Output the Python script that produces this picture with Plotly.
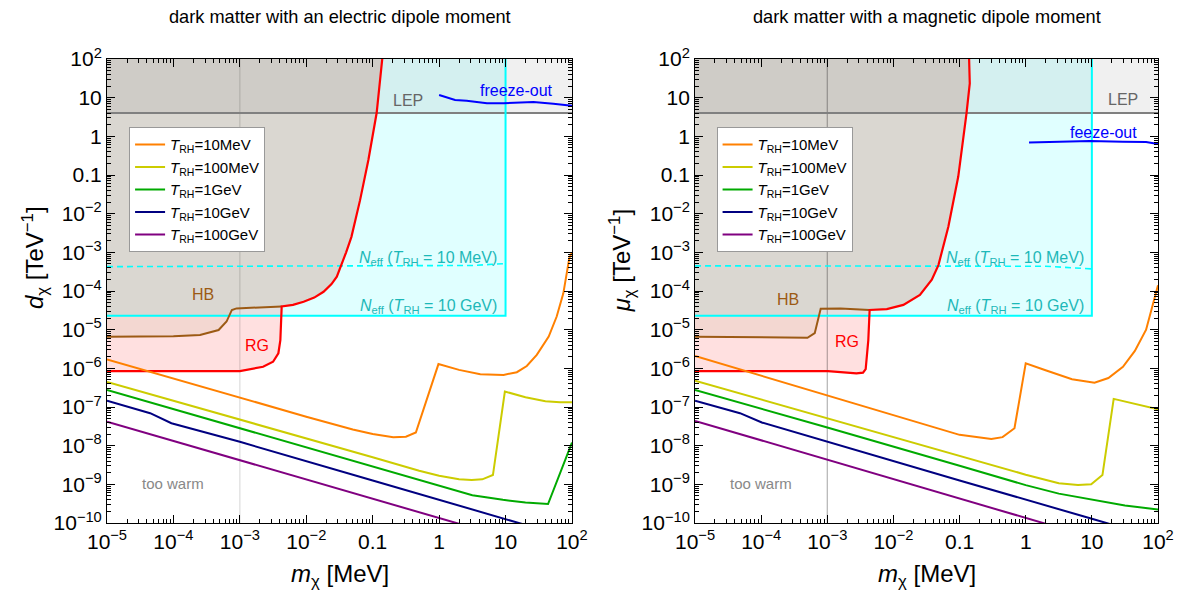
import numpy as np
import plotly.graph_objects as go

# ---------------- data (log10 m [MeV], log10 coupling [TeV^-1]) ----------------
LEP_LIMIT = 4.0
NEFF_BOTTOM = 2.3e-5
NEFF_MASS = 10.0

# electric dipole (left)
edm_orange = [(-5, -5.77), (-4, -6.27), (-3, -6.76), (-2, -7.25), (-1.3, -7.58), (-1, -7.70),
              (-0.69, -7.78), (-0.5, -7.77), (-0.35, -7.66), (-0.01, -5.89), (0.3, -6.04),
              (0.62, -6.15), (0.97, -6.17), (1.17, -6.10), (1.32, -5.94), (1.47, -5.65),
              (1.65, -5.18), (1.77, -4.66), (1.87, -4.06), (1.96, -3.15), (2.0, -3.0)]
edm_yellow = [(-5, -6.35), (-3, -7.32), (-1, -8.30), (-0.3, -8.65), (0, -8.78), (0.3, -8.87),
              (0.49, -8.89), (0.65, -8.87), (0.81, -8.76), (0.99, -6.60), (1.3, -6.75),
              (1.6, -6.85), (1.82, -6.88), (2.0, -6.88)]
edm_green = [(-5, -6.56), (-3, -7.55), (-1, -8.55), (0, -9.05), (0.5, -9.28), (0.96, -9.40),
             (1.3, -9.47), (1.64, -9.51), (2.0, -7.92)]
edm_navy = [(-5, -6.84), (-4.6, -7.03), (-4.35, -7.16), (-4.03, -7.42), (-3, -7.90), (-1, -8.90),
            (1, -9.90), (1.5, -10.15)]
edm_purple = [(-5, -7.38), (0.27, -10.0), (0.6, -10.17)]
edm_hb = [(-5, -5.18), (-4, -5.17), (-3.6, -5.14), (-3.32, -5.01), (-3.2, -4.79), (-3.12, -4.49),
          (-3.05, -4.45), (-2.37, -4.40)]
edm_rg_low = [(-5, -6.07), (-3, -6.07), (-2.65, -5.96), (-2.5, -5.83), (-2.42, -5.61),
              (-2.39, -5.27), (-2.37, -4.40)]
edm_red_up = [(-2.37, -4.40), (-2.2, -4.36), (-2.04, -4.28), (-1.88, -4.17), (-1.74, -4.02),
              (-1.62, -3.82), (-1.54, -3.63), (-1.48, -3.37), (-1.40, -3.00), (-1.32, -2.60),
              (-1.19, -1.65), (-1.065, -0.61), (-0.94, 0.61), (-0.855, 2.02)]
edm_neff_dash = [(-5, -3.37), (0, -3.36), (0.5, -3.34), (0.8, -3.31), (1, -3.29)]
edm_freeze = [(0, 1.07), (0.115, 1.01), (0.24, 0.94), (0.415, 0.92), (0.72, 0.855), (0.97, 0.855),
              (1.42, 0.89), (1.72, 0.84), (2.0, 0.79)]

# magnetic dipole (right)
mdm_orange = [(-5, -5.68), (-3, -6.70), (-1, -7.72), (-0.52, -7.83), (-0.35, -7.78),
              (-0.17, -7.55), (0, -5.87), (0.3, -6.05), (0.7, -6.28), (1.04, -6.37),
              (1.25, -6.25), (1.47, -5.96), (1.65, -5.55), (1.82, -5.0), (2.0, -3.85)]
mdm_yellow = [(-5, -6.32), (-3, -7.29), (-1, -8.27), (0, -8.75), (0.5, -8.97), (0.79, -9.02),
              (0.99, -9.00), (1.16, -8.76), (1.33, -6.79), (1.6, -6.90), (1.8, -6.98), (2.0, -7.06)]
mdm_green = [(-5, -6.56), (-3, -7.53), (-1, -8.52), (0, -9.02), (0.5, -9.24), (1, -9.40),
             (1.5, -9.55), (2.0, -9.65)]
mdm_navy = [(-5, -6.84), (-4.6, -7.03), (-4.32, -7.16), (-3.99, -7.40), (-3, -7.90), (-1, -8.90),
            (1, -9.89), (1.5, -10.14)]
mdm_purple = [(-5, -7.36), (0.26, -10.0), (0.6, -10.17)]
mdm_hb = [(-5, -5.18), (-4, -5.19), (-3.3, -5.21), (-3.19, -5.09), (-3.14, -4.75), (-3.1, -4.46),
          (-2.8, -4.45), (-2.5, -4.47), (-2.36, -4.49)]
mdm_rg_low = [(-5, -6.07), (-2.99, -6.07), (-2.56, -6.13), (-2.46, -6.11), (-2.42, -6.02),
              (-2.38, -5.27), (-2.36, -4.49)]
mdm_red_up = [(-2.36, -4.49), (-2.10, -4.47), (-1.85, -4.36), (-1.60, -4.10), (-1.42, -3.71),
              (-1.32, -3.33), (-1.17, -2.34), (-1.02, -1.04), (-0.895, 0.60), (-0.846, 1.37),
              (-0.856, 2.0)]
mdm_neff_dash = [(-5, -3.35), (0.3, -3.36), (0.6, -3.39), (1, -3.43)]
mdm_freeze = [(0.05, -0.16), (0.46, -0.145), (0.97, -0.12), (1.47, -0.14), (1.82, -0.145), (2.0, -0.2)]

T_RH_NAMES = ["10MeV", "100MeV", "1GeV", "10GeV", "100GeV"]
T_RH_COLORS = ["#ff8000", "#cccc00", "#00aa00", "#000080", "#800080"]

X_TICKS = [1e-5, 1e-4, 1e-3, 1e-2, 1e-1, 1, 10, 100]
X_TICKTEXT = ["10<sup>−5</sup>", "10<sup>−4</sup>", "10<sup>−3</sup>", "10<sup>−2</sup>", "0.1", "1", "10", "10<sup>2</sup>"]
Y_TICKS = [1e2, 10, 1, 0.1] + [10.0 ** (-k) for k in range(2, 11)]
Y_TICKTEXT = ["10<sup>2</sup>", "10", "1", "0.1"] + ["10<sup>−%d</sup>" % k for k in range(2, 11)]

XMIN, XMAX, YMIN, YMAX = 1e-5, 1e2, 1e-10, 1e2

FONT = "Liberation Sans, Arial, sans-serif"


def xy(pts):
    a = np.array(pts, dtype=float)
    return list(10 ** a[:, 0]), list(10 ** a[:, 1])


fig = go.Figure()


def panel(xa, ya, legend, orange, yellow, green, navy, purple, hb, rg_low, red_up, dash, freeze,
          vline_color):
    common = dict(xaxis=xa, yaxis=ya, hoverinfo="skip", showlegend=False)
    # Neff box fill
    fig.add_trace(go.Scatter(x=[XMIN, NEFF_MASS, NEFF_MASS, XMIN, XMIN],
                             y=[NEFF_BOTTOM, NEFF_BOTTOM, YMAX, YMAX, NEFF_BOTTOM],
                             fill="toself", fillcolor="rgba(0,255,255,0.12)", mode="none", **common))
    # RG region
    rx, ry = xy(rg_low + red_up[1:])
    fig.add_trace(go.Scatter(x=rx + [XMIN], y=ry + [YMAX], fill="toself",
                             fillcolor="rgba(255,0,0,0.12)", mode="none", **common))
    # HB region
    hx, hy = xy(hb + red_up[1:])
    fig.add_trace(go.Scatter(x=hx + [XMIN], y=hy + [YMAX], fill="toself",
                             fillcolor="rgba(148,144,94,0.11)", mode="none", **common))
    # LEP region
    fig.add_trace(go.Scatter(x=[XMIN, XMAX, XMAX, XMIN, XMIN],
                             y=[LEP_LIMIT, LEP_LIMIT, YMAX, YMAX, LEP_LIMIT],
                             fill="toself", fillcolor="rgba(128,128,128,0.12)", mode="none", **common))
    # vertical guide at 1 keV
    fig.add_trace(go.Scatter(x=[1e-3, 1e-3], y=[YMIN, YMAX], mode="lines",
                             line=dict(color=vline_color, width=1.3), **common))
    # LEP line
    fig.add_trace(go.Scatter(x=[XMIN, XMAX], y=[LEP_LIMIT, LEP_LIMIT], mode="lines",
                             line=dict(color="#808080", width=2), **common))
    # Neff lines
    fig.add_trace(go.Scatter(x=[XMIN, NEFF_MASS, NEFF_MASS], y=[NEFF_BOTTOM, NEFF_BOTTOM, YMAX],
                             mode="lines", line=dict(color="#00ffff", width=2), **common))
    dx, dy = xy(dash)
    fig.add_trace(go.Scatter(x=dx, y=dy, mode="lines",
                             line=dict(color="#00ffff", width=1.6, dash="6px,4px"), **common))
    # HB line
    bx, by = xy(hb)
    fig.add_trace(go.Scatter(x=bx, y=by, mode="lines", line=dict(color="#9c5a14", width=2), **common))
    # RG line
    fx, fy = xy(rg_low + red_up[1:])
    fig.add_trace(go.Scatter(x=fx, y=fy, mode="lines", line=dict(color="#ff0000", width=2.2), **common))
    # freeze-out
    zx, zy = xy(freeze)
    fig.add_trace(go.Scatter(x=zx, y=zy, mode="lines", line=dict(color="#0000ff", width=2), **common))
    # T_RH curves
    for name, col, pts in zip(T_RH_NAMES, T_RH_COLORS, [orange, yellow, green, navy, purple]):
        cx, cy = xy(pts)
        fig.add_trace(go.Scatter(x=cx, y=cy, mode="lines", line=dict(color=col, width=2),
                                 name="<i>T</i><sub>RH</sub>=" + name, legend=legend,
                                 xaxis=xa, yaxis=ya, hoverinfo="skip"))


panel("x", "y", "legend", edm_orange, edm_yellow, edm_green, edm_navy, edm_purple, edm_hb,
      edm_rg_low, edm_red_up, edm_neff_dash, edm_freeze, "rgba(0,0,0,0.13)")
panel("x2", "y2", "legend2", mdm_orange, mdm_yellow, mdm_green, mdm_navy, mdm_purple, mdm_hb,
      mdm_rg_low, mdm_red_up, mdm_neff_dash, mdm_freeze, "rgba(0,0,0,0.28)")

minor_x = [k * 10.0 ** e for e in range(-5, 2) for k in range(2, 10)]
minor_y = [k * 10.0 ** e for e in range(-10, 2) for k in range(2, 10)]

axis_common = dict(type="log", showgrid=False, zeroline=False, showline=True, linecolor="black",
                   linewidth=1, mirror="allticks", ticks="inside", ticklen=8, tickcolor="black",
                   automargin=False,
                   tickfont=dict(family=FONT, size=21, color="black"))
xax = dict(axis_common, range=[-5, 2], tickmode="array", tickvals=X_TICKS, ticktext=X_TICKTEXT,
           minor=dict(tickmode="array", tickvals=minor_x, ticks="inside", ticklen=4, tickcolor="black"))
yax = dict(axis_common, range=[-10, 2], tickmode="array", tickvals=Y_TICKS, ticktext=Y_TICKTEXT,
           minor=dict(tickmode="array", tickvals=minor_y, ticks="inside", ticklen=4, tickcolor="black"))

legend_common = dict(bgcolor="white", bordercolor="#999999", borderwidth=1,
                     font=dict(family=FONT, size=15, color="black"), xanchor="left", yanchor="top",
                     tracegroupgap=0, itemwidth=30)

fig.update_layout(
    width=1182, height=593,
    margin=dict(l=107, r=24, t=59, b=70, autoexpand=False),
    paper_bgcolor="white", plot_bgcolor="white",
    xaxis=dict(xax, domain=[0, 0.4424], anchor="y"),
    yaxis=dict(yax, domain=[0, 1], anchor="x"),
    xaxis2=dict(xax, domain=[0.5595, 1], anchor="y2"),
    yaxis2=dict(yax, domain=[0, 1], anchor="x2"),
    legend=dict(legend_common, x=0.021, y=0.853),
    legend2=dict(legend_common, x=0.580, y=0.853),
    font=dict(family=FONT),
)

ann = []


def txt(text, x, y, xref, yref, size, color, **kw):
    ann.append(dict(text=text, x=x, y=y, xref=xref, yref=yref, showarrow=False,
                    xanchor="center", yanchor="middle",
                    font=dict(family=FONT, size=size, color=color), **kw))


# titles
txt("dark matter with an electric dipole moment", 0.2214, 1.0905, "paper", "paper", 18.2, "black")
txt("dark matter with a magnetic dipole moment", 0.7798, 1.0905, "paper", "paper", 18.2, "black")
# axis titles
txt("<i>m</i><sub>χ</sub> [MeV]", 0.2214, -0.114, "paper", "paper", 24, "black")
txt("<i>m</i><sub>χ</sub> [MeV]", 0.7798, -0.114, "paper", "paper", 24, "black")
txt("<i>d</i><sub>χ</sub> [TeV<sup>−1</sup>]", -0.0685, 0.571, "paper", "paper", 24, "black", textangle=-90)
txt("<i>μ</i><sub>χ</sub> [TeV<sup>−1</sup>]", 0.490, 0.566, "paper", "paper", 24, "black", textangle=-90)

NEFF_COLOR = "#1db8b8"

# left annotations
txt("LEP", -0.467, 0.914, "x", "y", 16, "#666666")
txt("freeze-out", 1.16, 1.18, "x", "y", 16, "#0000ff")
txt("<i>N</i><sub>eff</sub> (<i>T</i><sub>RH</sub> = 10 MeV)", -0.166, -3.15, "x", "y", 16, NEFF_COLOR)
txt("<i>N</i><sub>eff</sub> (<i>T</i><sub>RH</sub> = 10 GeV)", -0.166, -4.39, "x", "y", 16, NEFF_COLOR)
txt("HB", -3.554, -4.08, "x", "y", 16, "#9c5a14")
txt("RG", -2.74, -5.40, "x", "y", 16, "#ff0000")
txt("too warm", -4.006, -8.99, "x", "y", 15, "#888888")
# right annotations
txt("LEP", 1.465, 0.94, "x2", "y2", 16, "#666666")
txt("feeze-out", 1.17, 0.094, "x2", "y2", 16, "#0000ff")
txt("<i>N</i><sub>eff</sub> (<i>T</i><sub>RH</sub> = 10 MeV)", -0.158, -3.15, "x2", "y2", 16, NEFF_COLOR)
txt("<i>N</i><sub>eff</sub> (<i>T</i><sub>RH</sub> = 10 GeV)", -0.158, -4.39, "x2", "y2", 16, NEFF_COLOR)
txt("HB", -3.595, -4.21, "x2", "y2", 16, "#9c5a14")
txt("RG", -2.704, -5.31, "x2", "y2", 16, "#ff0000")
txt("too warm", -4.01, -8.99, "x2", "y2", 15, "#888888")

fig.update_layout(annotations=ann)
fig.write_html("out.html", config={"displayModeBar": False},
               post_script="document.body.style.margin='0px';document.body.style.overflow='hidden';")
